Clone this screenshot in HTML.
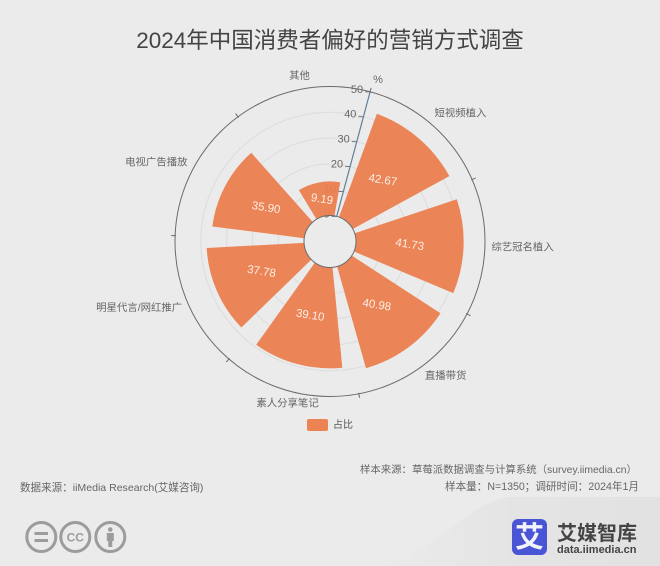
<!DOCTYPE html>
<html lang="zh">
<head>
<meta charset="utf-8">
<title>2024年中国消费者偏好的营销方式调查</title>
<style>
html,body{margin:0;padding:0;background:#ebebeb;}
svg{display:block;font-family:"Liberation Sans","Noto Sans CJK SC",sans-serif;}
</style>
</head>
<body>
<svg id="chart" width="660" height="566" viewBox="0 0 660 566" xmlns="http://www.w3.org/2000/svg">
  <defs>
    <linearGradient id="cornerFade" x1="0" y1="0" x2="1" y2="0">
      <stop offset="0" stop-color="#ebebeb"/>
      <stop offset="0.5" stop-color="#e4e4e4"/>
      <stop offset="1" stop-color="#e2e2e2"/>
    </linearGradient>
  </defs>
  <rect width="660" height="566" fill="#ebebeb"/>
  <path d="M380 566C440 550 470 500 510 497L660 497L660 566Z" fill="url(#cornerFade)"/>
  <text x="330" y="48" text-anchor="middle" font-size="22.5" fill="#444">2024年中国消费者偏好的营销方式调查</text>
  <g id="grid"></g>
  <g id="axisLabels"></g>
  <g id="bars"></g>
  <g id="axis"></g>
  <g id="valueLabels"></g>
  <g id="catLabels"></g>
  <text x="378" y="83" text-anchor="middle" font-size="11" fill="#666">%</text>
  <rect x="307" y="419" width="21" height="12" rx="2" fill="#ec8353"/>
  <text x="333" y="428" font-size="10" fill="#555">占比</text>
  <text x="360" y="473" font-size="10.4" fill="#666">样本来源：草莓派数据调查与计算系统（survey.iimedia.cn）</text>
  <text x="639" y="490" text-anchor="end" font-size="10.6" fill="#666">样本量：N=1350；调研时间：2024年1月</text>
  <text x="20" y="491" font-size="10.55" fill="#666">数据来源：iiMedia Research(艾媒咨询)</text>
  <g fill="none" stroke="#9c9c9c" stroke-width="3">
    <g>
      <circle cx="41.300" cy="537" r="14.5"/>
      <path d="M34.500 533.500H48M34.500 540.500H48"/>
    </g>
    <g>
      <circle cx="75.300" cy="537" r="14.5"/>
      <text x="75.300" y="541.300" text-anchor="middle" font-size="12" font-weight="bold" fill="#9c9c9c" stroke="none">CC</text>
    </g>
    <g>
      <circle cx="110.300" cy="537" r="14.5"/>
      <circle cx="110.300" cy="529.500" r="2.300" fill="#9c9c9c" stroke="none"/>
      <path d="M106.800 533H113.800V541H112.300V547H108.300V541H106.800Z" fill="#9c9c9c" stroke="none"/>
    </g>
  </g>
  <g>
    <rect x="512" y="519" width="35" height="36" rx="6" fill="#4a55d6"/>
    <text x="529.500" y="547" text-anchor="middle" font-size="29" font-weight="bold" fill="#f2f3fb">艾</text>
    <text x="557" y="540" font-size="20" font-weight="bold" fill="#444">艾媒智库</text>
    <text x="557" y="553" font-size="11" font-weight="bold" fill="#444">data.iimedia.cn</text>
  </g>
</svg>
<script>
const categories = ["短视频植入", "综艺冠名植入", "直播带货", "素人分享笔记", "明星代言/网红推广", "电视广告播放", "其他"];
/* Bar lengths (the last bar is drawn past its printed value). */
const plottedValues = [42.67, 41.73, 40.98, 39.10, 37.78, 35.90, 13.2];
const printedValues = ["42.67", "41.73", "40.98", "39.10", "37.78", "35.90", "9.19"];
const radiusTicks = [0, 10, 20, 30, 40, 50];

const NS = "http://www.w3.org/2000/svg";
const cx = 330, cy = 241.5, innerR = 26, outerR = 155, startDeg = 15;
const axisMax = radiusTicks[radiusTicks.length - 1];
const bandDeg = 360 / categories.length;
const barShare = 0.8;

function radius(v) { return innerR + (v / axisMax) * (outerR - innerR); }
function angleOf(i) { return startDeg + bandDeg * i; }
function px(r, deg) { return cx + r * Math.sin(deg * Math.PI / 180); }
function py(r, deg) { return cy - r * Math.cos(deg * Math.PI / 180); }
function make(tag, attrs, text) {
  const el = document.createElementNS(NS, tag);
  for (const k in attrs) el.setAttribute(k, attrs[k]);
  if (text !== undefined) el.textContent = text;
  return el;
}
const grid = document.getElementById("grid");
const axisG = document.getElementById("axis");
const axisLabels = document.getElementById("axisLabels");
const barsG = document.getElementById("bars");
const valueLabels = document.getElementById("valueLabels");
const catLabels = document.getElementById("catLabels");

radiusTicks.forEach(function (t) {
  const r = radius(t);
  if (t > 0 && t < axisMax) {
    const ring = make("circle", {cx: cx, cy: cy, r: r, fill: "none", stroke: "#dedede", "stroke-width": 1.2});
    
    
    grid.appendChild(ring);
  }
  const tick = make("line", {x1: px(r, startDeg), y1: py(r, startDeg), x2: px(r, startDeg) - 5, y2: py(r, startDeg), stroke: "#6e7b8b", "stroke-width": 1});
  
  
  axisG.appendChild(tick);
  const lab = make("text", {x: px(r, startDeg) - 7, y: py(r, startDeg) + 1, "text-anchor": "end", "font-size": 11, fill: "#666"}, String(t));
  
  
  axisLabels.appendChild(lab);
});

const outerRing = make("circle", {cx: cx, cy: cy, r: outerR, fill: "none", stroke: "#6c6c6c", "stroke-width": 1});


axisG.appendChild(outerRing);
const innerRing = make("circle", {cx: cx, cy: cy, r: innerR, fill: "none", stroke: "#6c6c6c", "stroke-width": 1});


axisG.appendChild(innerRing);
const radAxis = make("line", {x1: px(innerR, startDeg), y1: py(innerR, startDeg), x2: px(outerR, startDeg), y2: py(outerR, startDeg), stroke: "#5f7f99", "stroke-width": 1.2});


axisG.appendChild(radAxis);

categories.forEach(function (name, i) {
  const a = angleOf(i);
  const tk = make("line", {x1: px(outerR - 1, a), y1: py(outerR - 1, a), x2: px(outerR + 4, a), y2: py(outerR + 4, a), stroke: "#6c6c6c", "stroke-width": 1});
  
  
  axisG.appendChild(tk);

  const mid = a + bandDeg / 2;
  const half = bandDeg * barShare / 2;
  const r1 = radius(plottedValues[i]);
  const a0 = mid - half, a1 = mid + half;
  const d = "M" + px(innerR, a0) + " " + py(innerR, a0) +
    "L" + px(r1, a0) + " " + py(r1, a0) +
    "A" + r1 + " " + r1 + " 0 0 1 " + px(r1, a1) + " " + py(r1, a1) +
    "L" + px(innerR, a1) + " " + py(innerR, a1) +
    "A" + innerR + " " + innerR + " 0 0 0 " + px(innerR, a0) + " " + py(innerR, a0) + "Z";
  const bar = make("path", {d: d, fill: "#eb8050", "fill-opacity": 0.95});
  
  
  barsG.appendChild(bar);

  const rm = (innerR + r1) / 2;
  const vx = px(rm, mid), vy = py(rm, mid);
  const vl = make("text", {x: vx, y: vy + 3.5, "text-anchor": "middle", "font-size": 11.5, fill: "#fdeee4", transform: "rotate(9 " + vx + " " + vy + ")"}, printedValues[i]);
  
  
  valueLabels.appendChild(vl);

  const s = Math.sin(mid * Math.PI / 180);
  const anchor = Math.abs(s) < 0.3 ? "middle" : (s > 0 ? "start" : "end");
  const nudge = anchor === "start" ? -2.5 : (anchor === "end" ? 2.5 : 0);
  const cl = make("text", {x: px(outerR + 9, mid) + nudge, y: py(outerR + 13, mid) + 2.5, "text-anchor": anchor, "font-size": 10.4, fill: "#666"}, name);
  
  
  catLabels.appendChild(cl);
});
</script>
</body>
</html>
